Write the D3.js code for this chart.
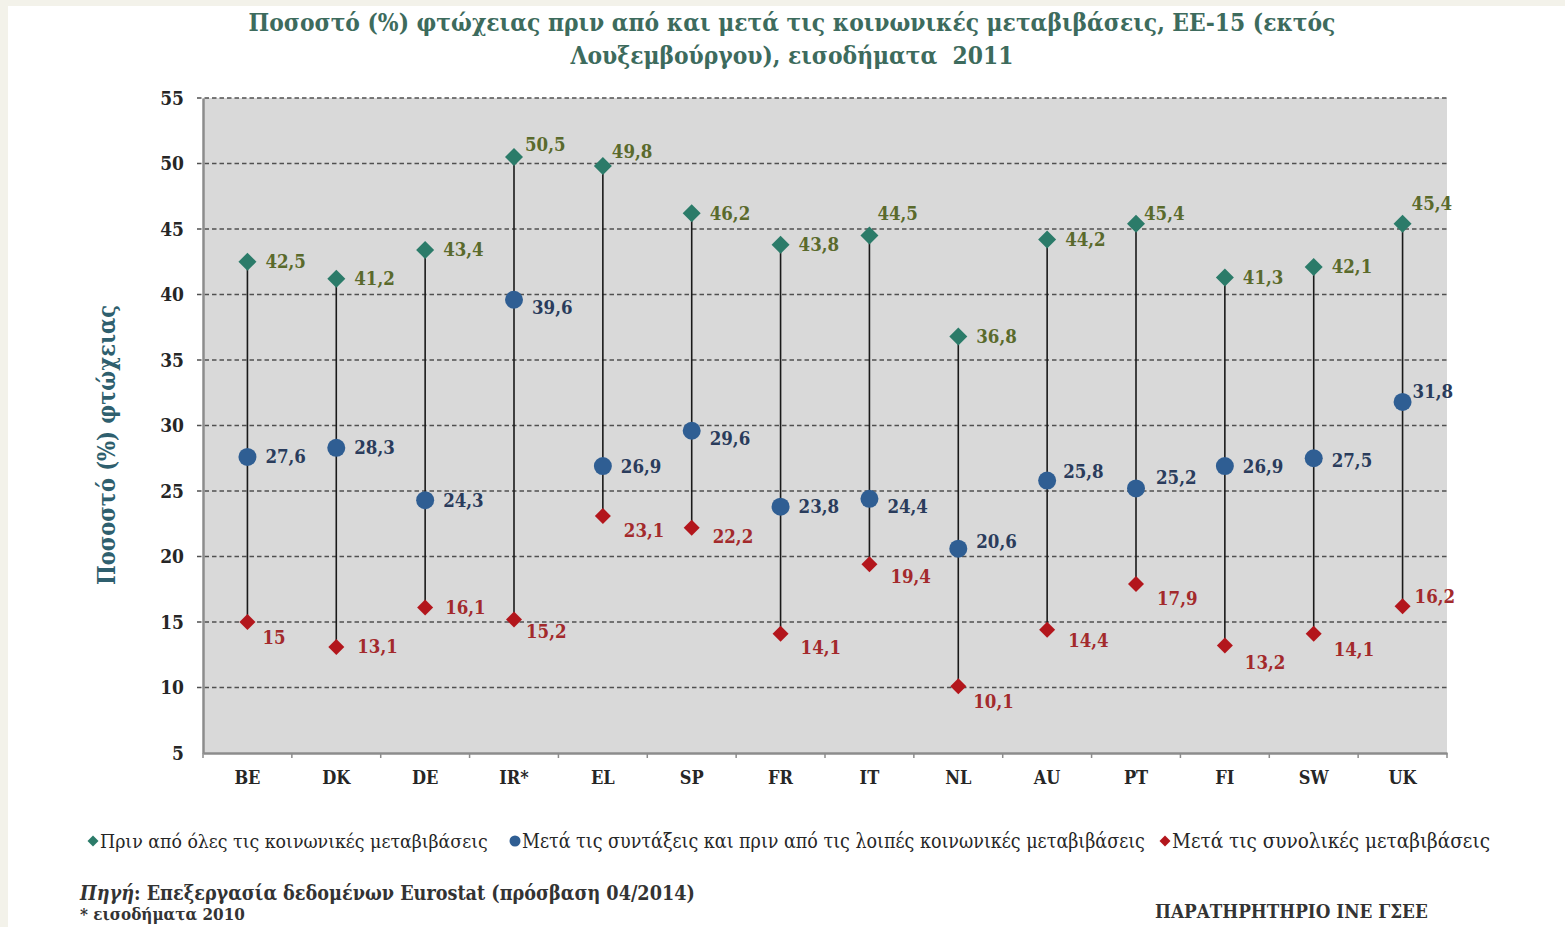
<!DOCTYPE html>
<html><head><meta charset="utf-8">
<script src="https://cdn.jsdelivr.net/npm/d3@7"></script>
<style>
html,body{margin:0;padding:0;background:#fff;}
svg{display:block;}
</style></head>
<body>
<svg id="chart" width="1565" height="927"></svg>
<script>
// ---- data ----
const categories = ["BE","DK","DE","IR*","EL","SP","FR","IT","NL","AU","PT","FI","SW","UK"];
const beforeAll = [42.5,41.2,43.4,50.5,49.8,46.2,43.8,44.5,36.8,44.2,45.4,41.3,42.1,45.4];
const afterPensions = [27.6,28.3,24.3,39.6,26.9,29.6,23.8,24.4,20.6,25.8,25.2,26.9,27.5,31.8];
const afterAll = [15,13.1,16.1,15.2,23.1,22.2,14.1,19.4,10.1,14.4,17.9,13.2,14.1,16.2];
const yTicks = [5,10,15,20,25,30,35,40,45,50,55];
const seriesNames = ["Πριν από όλες τις κοινωνικές μεταβιβάσεις",
  "Μετά τις συντάξεις και πριν από τις λοιπές κοινωνικές μεταβιβάσεις",
  "Μετά τις συνολικές μεταβιβάσεις"];
const titleLines = ["Ποσοστό (%) φτώχειας πριν από και μετά τις κοινωνικές μεταβιβάσεις, ΕΕ-15 (εκτός",
  "Λουξεμβούργου), εισοδήματα\u00a0 2011"];
const yTitle = "Ποσοστό (%) φτώχειας";

// label placement nudges [dx, dy] in px (layout only)
const nudgeBefore = [[18,0],[18,0],[18,0],[11,-12],[9,-15],[18,0],[18,0],[8,-22],[18,0],[18,0],[8,-10],[18,0],[18,0],[9,-20]];
const nudgePens = [[18,0],[18,0],[18,0],[18,8],[18,0],[18,8],[18,0],[18,8],[18,-7],[16,-9],[20,-11],[18,0],[18,2],[10,-10]];
const nudgeAfter = [[15,16],[21,0],[20,0],[12,12],[21,15],[21,9],[20,14],[21,12],[15,15],[21,11],[21,15],[20,17],[20,16],[12,-10]];

// ---- styles ----
const C = {
  green:"#2b7b69", greenTxt:"#5a6a2c",
  blue:"#2f5e93", blueTxt:"#2a3c5c",
  red:"#b3161c", redTxt:"#a32a2c",
  title:"#3d6b5d", grid:"#505050", bg:"#d9d9d9", axis:"#8c8c8c"
};
const serif = "'DejaVu Serif Condensed','DejaVu Serif','Liberation Serif',serif";

const svg = d3.select("#chart");
// frame
svg.append("rect").attr("x",0).attr("y",0).attr("width",1565).attr("height",927).attr("fill","#f3f2ea");
svg.append("rect").attr("x",8).attr("y",6).attr("width",1557).attr("height",921).attr("fill","#ffffff");

const m = {left:203, right:1447, top:98, bottom:753};
const x = d3.scaleBand().domain(categories).range([m.left,m.right]).padding(0);
const y = d3.scaleLinear().domain([5,55]).range([m.bottom,m.top]);
const cx = c => x(c) + x.bandwidth()/2;
const fmt = v => String(v).replace(".",",");

function fit(sel, target){
  const node = sel.node();
  let fs = parseFloat(sel.attr("font-size"));
  const w = node.getComputedTextLength();
  if (w>0) sel.attr("font-size", (fs*target/w).toFixed(2));
}

// title
const t1 = svg.append("text").attr("x",792).attr("y",31).attr("text-anchor","middle")
  .attr("font-family",serif).attr("font-weight","bold").attr("font-size",20).attr("fill",C.title).text(titleLines[0]);
fit(t1,1087);
svg.append("text").attr("x",792).attr("y",64).attr("text-anchor","middle")
  .attr("font-family",serif).attr("font-weight","bold").attr("font-size",t1.attr("font-size")).attr("fill",C.title).text(titleLines[1]);

// plot bg
svg.append("rect").attr("x",m.left).attr("y",m.top).attr("width",m.right-m.left).attr("height",m.bottom-m.top).attr("fill",C.bg);

// grid
svg.append("g").selectAll("line").data(yTicks.filter(v=>v>5)).join("line")
  .attr("x1",m.left-6).attr("x2",m.right).attr("y1",d=>y(d)).attr("y2",d=>y(d))
  .attr("stroke",C.grid).attr("stroke-width",1.6).attr("stroke-dasharray","4.5,3");

// y axis
const ya = svg.append("g").attr("transform",`translate(${m.left},0)`)
  .call(d3.axisLeft(y).tickValues(yTicks).tickSize(0).tickPadding(19));
ya.select(".domain").attr("stroke",C.axis).attr("stroke-width",2.5);
ya.selectAll("text").attr("font-family",serif).attr("font-weight","bold").attr("font-size",19).attr("fill","#262626");

// x axis
const xa = svg.append("g").attr("transform",`translate(0,${m.bottom})`)
  .call(d3.axisBottom(x).tickSize(0).tickPadding(18));
xa.select(".domain").attr("stroke",C.axis).attr("stroke-width",2.5);
xa.selectAll("text").attr("font-family",serif).attr("font-weight","bold").attr("font-size",18).attr("fill","#262626");
// tick marks at band boundaries
svg.append("g").selectAll("line").data(categories.concat(["_end"])).join("line")
  .attr("x1",(d,i)=> i<categories.length ? x(d) : m.right)
  .attr("x2",(d,i)=> i<categories.length ? x(d) : m.right)
  .attr("y1",m.bottom).attr("y2",m.bottom+5).attr("stroke",C.axis).attr("stroke-width",1.5);

// y title
const yt = svg.append("text").attr("transform","translate(115,445) rotate(-90)").attr("text-anchor","middle")
  .attr("font-family",serif).attr("font-weight","bold").attr("font-size",19).attr("fill","#2f5f6e").text(yTitle);
fit(yt, 280);

// vertical connectors
svg.append("g").selectAll("line").data(categories).join("line")
  .attr("x1",d=>cx(d)).attr("x2",d=>cx(d))
  .attr("y1",(d,i)=>y(beforeAll[i])).attr("y2",(d,i)=>y(afterAll[i]))
  .attr("stroke","#1a1a1a").attr("stroke-width",1.6);

function diamondPath(r){ return `M0,${-r}L${r},0L0,${r}L${-r},0Z`; }

// markers
svg.append("g").selectAll("path").data(categories).join("path")
  .attr("d",diamondPath(9)).attr("transform",(d,i)=>`translate(${cx(d)},${y(beforeAll[i])})`).attr("fill",C.green);
svg.append("g").selectAll("circle").data(categories).join("circle")
  .attr("cx",d=>cx(d)).attr("cy",(d,i)=>y(afterPensions[i])).attr("r",9).attr("fill",C.blue);
svg.append("g").selectAll("path").data(categories).join("path")
  .attr("d",diamondPath(8)).attr("transform",(d,i)=>`translate(${cx(d)},${y(afterAll[i])})`).attr("fill",C.red);

// labels
function labels(vals,nudge,color){
  svg.append("g").selectAll("text").data(categories).join("text")
    .attr("x",(d,i)=>cx(d)+nudge[i][0]).attr("y",(d,i)=>y(vals[i])+nudge[i][1])
    .attr("dy","0.35em").attr("font-family",serif).attr("font-weight","bold").attr("font-size",18.5)
    .attr("fill",color).text((d,i)=>fmt(vals[i]));
}
labels(beforeAll,nudgeBefore,C.greenTxt);
labels(afterPensions,nudgePens,C.blueTxt);
labels(afterAll,nudgeAfter,C.redTxt);

// legend
const legX = [88, 510, 1160];
const legW = [400, 635, 330];
const legColors = [C.green, C.blue, C.red];
const ly = 841;
seriesNames.forEach((name,i)=>{
  if(i===1) svg.append("circle").attr("cx",legX[i]+5).attr("cy",ly).attr("r",5.5).attr("fill",legColors[i]);
  else svg.append("path").attr("d",diamondPath(5.5)).attr("transform",`translate(${legX[i]+5},${ly})`).attr("fill",legColors[i]);
  const tt = svg.append("text").attr("x",legX[i]+12).attr("y",ly).attr("dy","0.35em")
    .attr("font-family",serif).attr("font-size",17).attr("fill","#262626").text(name);
  fit(tt, legW[i]-12);
});

// source
const src = svg.append("text").attr("x",80).attr("y",900).attr("font-family",serif).attr("font-size",19).attr("fill","#333");
src.append("tspan").attr("font-style","italic").text("Πηγή");
src.append("tspan").text(": Επεξεργασία δεδομένων Eurostat (πρόσβαση 04/2014)");
src.attr("font-weight","bold");
fit(src, 615);
const st = svg.append("text").attr("x",80).attr("y",920).attr("font-family",serif).attr("font-size",18).attr("font-weight","bold").attr("fill","#333").text("* εισοδήματα 2010");
fit(st, 165);
const obs = svg.append("text").attr("x",1155).attr("y",918).attr("font-family",serif).attr("font-size",17).attr("font-weight","bold").attr("fill","#333").text("ΠΑΡΑΤΗΡΗΤΗΡΙΟ ΙΝΕ ΓΣΕΕ");
fit(obs, 273);
</script>
</body></html>
